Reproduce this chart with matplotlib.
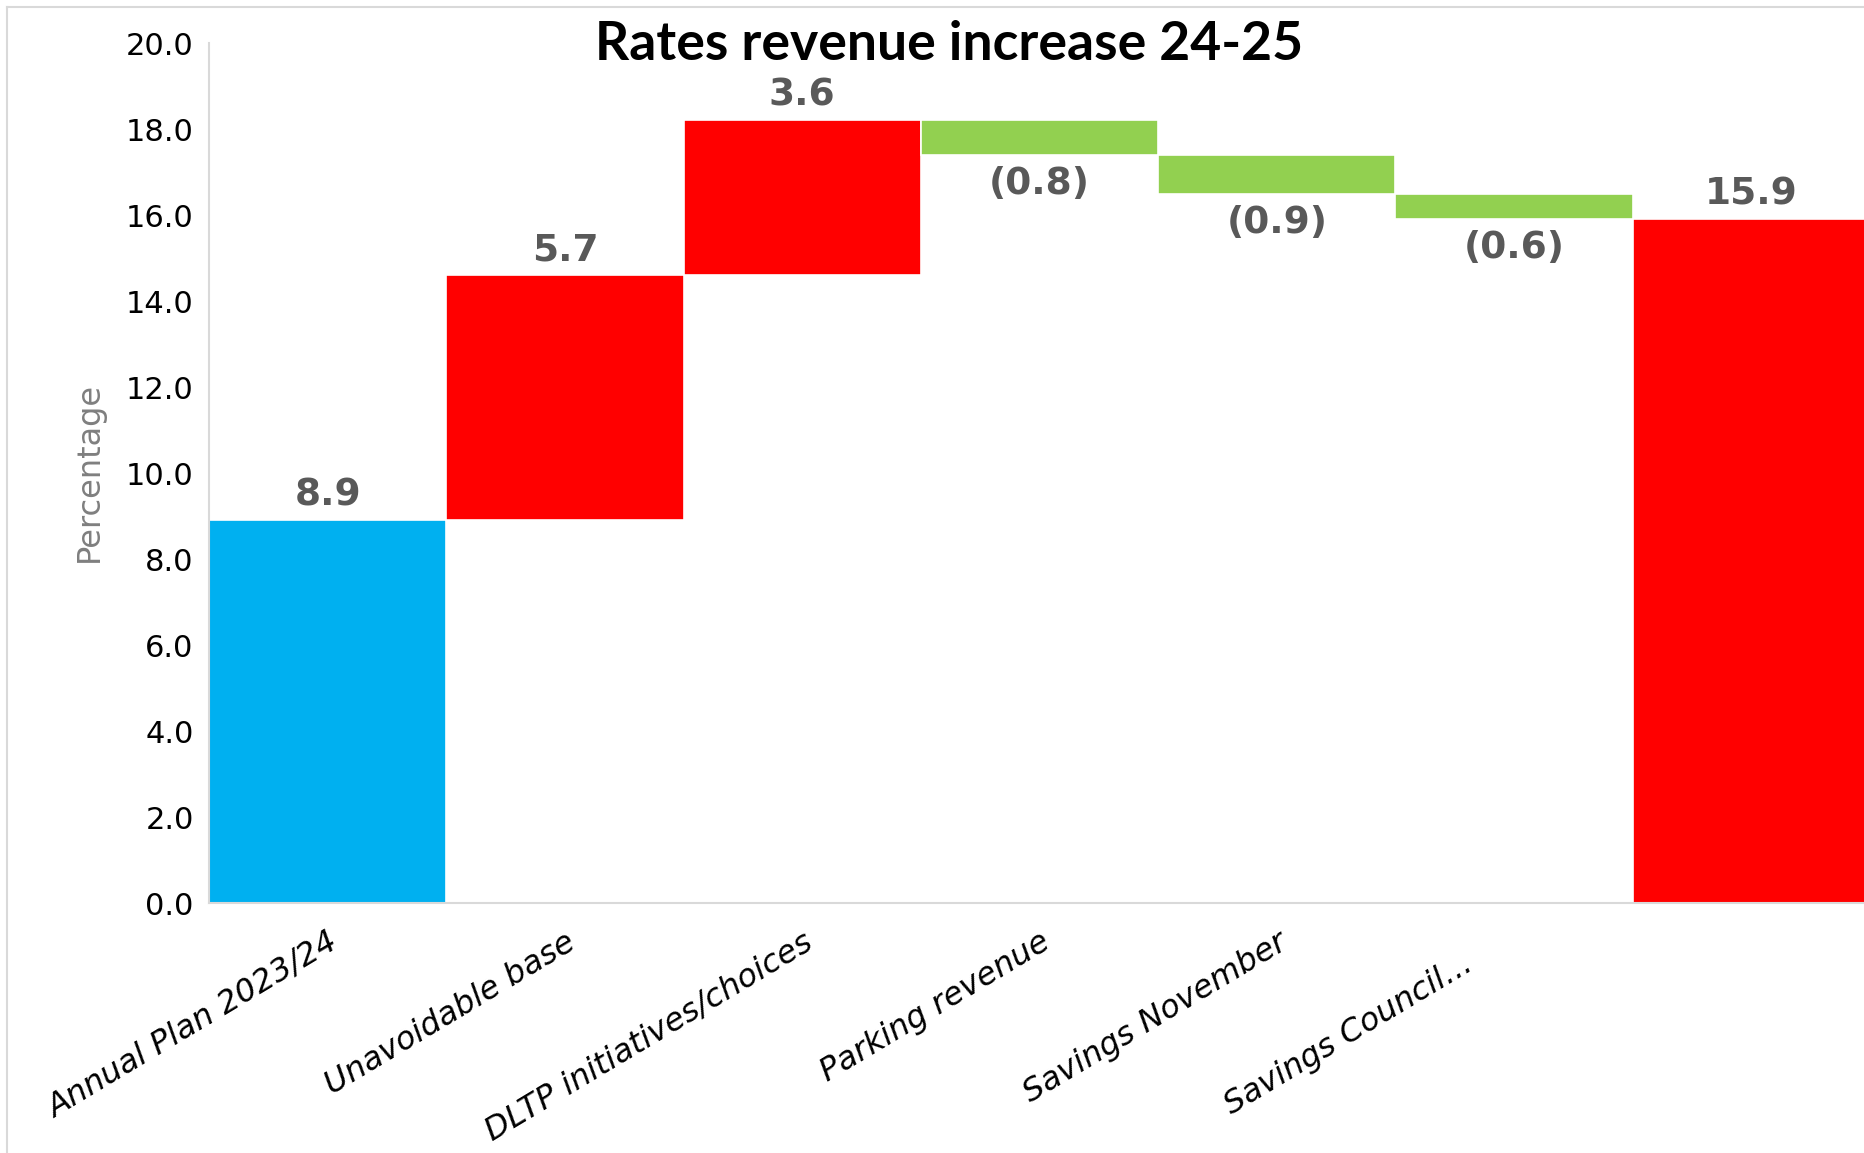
import numpy as np
import matplotlib
matplotlib.use("Agg")
import matplotlib.pyplot as plt
from matplotlib.lines import Line2D
from matplotlib.transforms import ScaledTranslation

categories = ["Annual Plan 2023/24", "Unavoidable base", "DLTP initiatives/choices",
              "Parking revenue", "Savings November", "Savings Council...", ""]
changes = [8.9, 5.7, 3.6, -0.8, -0.9, -0.6]
total = 15.9
kinds = ["start", "up", "up", "down", "down", "down", "total"]

kind_colors = {"start": "#00B0F0", "up": "#FF0000", "down": "#92D050", "total": "#FF0000"}

label_font = "DejaVu Sans"
title_font = "Lato"

# build the floating bars
cum = np.cumsum(changes)
values = changes + [total]
bottoms = [0.0] + list(cum[:-1]) + [0.0]
x = np.arange(len(categories))

fig = plt.figure(figsize=(18.65, 11.53), dpi=100)
ax = fig.add_axes([209 / 1865, 0.2168, (1870 - 209) / 1865, 0.7459])

ax.bar(x, values, bottom=bottoms, width=1.0,
       color=[kind_colors[k] for k in kinds], edgecolor="white", linewidth=1.2)

# data labels
for xi, v, b in zip(x, values, bottoms):
    end = b + v
    if v >= 0:
        txt = f"{v:.1f}"
        dy = 18
    else:
        txt = f"({abs(v):.1f})"
        dy = -21
    ax.annotate(txt, (xi, end), xytext=(0, dy), textcoords="offset points",
                ha="center", va="center", fontsize=27, fontweight="bold",
                color="#595959", family=label_font)

ax.set_xlim(-0.5, 6.5)
ax.set_ylim(0, 20)
ax.set_yticks(np.arange(0, 21, 2))
ax.set_yticklabels([f"{t:.1f}" for t in np.arange(0, 21, 2)], fontsize=22, family=label_font)

ax.set_xticks(x)
ax.set_xticklabels(categories, rotation=31, ha="right", va="top", rotation_mode="anchor",
                   fontsize=23, style="italic", family=label_font)
ax.tick_params(axis="x", length=0, pad=17)
ax.tick_params(axis="y", length=0, pad=11)

for side in ["top", "right"]:
    ax.spines[side].set_visible(False)
for side in ["left", "bottom"]:
    ax.spines[side].set_color("#D9D9D9")
    ax.spines[side].set_linewidth(1.5)

# the truncated label sits a bit lower/left in the original
lbl = ax.get_xticklabels()[5]
lbl.set_transform(lbl.get_transform() + ScaledTranslation(-0.52, -0.22, fig.dpi_scale_trans))

fig.text(89 / 1865, 1 - 472 / 1153, "Percentage", rotation=90, ha="center", va="center",
         fontsize=23, color="#7F7F7F", family=label_font)

fig.text(949 / 1865, 1 - 45 / 1153, "Rates revenue increase 24-25", ha="center", va="center",
         fontsize=38.5, fontweight="bold", color="black", family=title_font)

# light border (top and left edges visible in the screenshot)
fig.add_artist(Line2D([7 / 1865, 1], [1 - 7 / 1153, 1 - 7 / 1153], color="#D9D9D9", lw=1.5,
                      transform=fig.transFigure))
fig.add_artist(Line2D([7 / 1865, 7 / 1865], [0, 1 - 7 / 1153], color="#D9D9D9", lw=1.5,
                      transform=fig.transFigure))

fig.savefig("out.png", dpi=100, facecolor="white")
